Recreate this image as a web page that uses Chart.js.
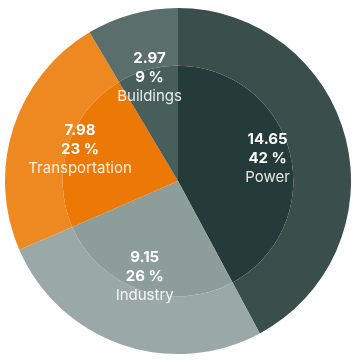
<!DOCTYPE html>
<html>
<head>
<meta charset="utf-8">
<script src="https://cdn.jsdelivr.net/npm/chart.js@4"></script>
<style>
  html, body { margin: 0; padding: 0; background: #ffffff; }
  #wrap { width: 356px; height: 364px; position: relative; }
</style>
</head>
<body>
<div id="wrap"><canvas id="c" width="356" height="364"></canvas></div>
<script>
const categories = ["Power", "Industry", "Transportation", "Buildings"];
const values = [14.65, 9.15, 7.98, 2.97];
const percentLabels = ["42 %", "26 %", "23 %", "9 %"];
const outerColors = ["#3a4e4c", "#9aa9a5", "#ee8820", "#5a6f6b"];
const innerColors = ["#243b39", "#8d9d99", "#ec7805", "#475e5a"];

const labelPlugin = {
  id: "sliceLabels",
  afterDatasetsDraw(chart) {
    const ctx = chart.ctx;
    const meta = chart.getDatasetMeta(0);
    meta.data.forEach((arc, i) => {
      const p = arc.getProps(["x", "y", "startAngle", "endAngle", "outerRadius"], true);
      const span = p.endAngle - p.startAngle;
      const mid = (p.startAngle + p.endAngle) / 2;
      const R = p.outerRadius;
      const centroid = 4 * R * Math.sin(span / 2) / (3 * span);
      const r = 0.5 * (0.58 * R + centroid);
      const cx = p.x + Math.cos(mid) * r;
      const cy = p.y + Math.sin(mid) * r;
      ctx.save();
      ctx.textAlign = "center";
      ctx.textBaseline = "middle";
      ctx.fillStyle = "#ffffff";
      ctx.font = "bold 15px Inter, 'Noto Sans', sans-serif";
      ctx.fillText(values[i].toFixed(2), cx, cy - 19);
      ctx.fillText(percentLabels[i], cx, cy);
      ctx.fillStyle = "rgba(255,255,255,0.88)";
      ctx.font = "15px Inter, 'Noto Sans', sans-serif";
      ctx.fillText(categories[i], cx, cy + 19);
      ctx.restore();
    });
  }
};

new Chart(document.getElementById("c"), {
  type: "doughnut",
  data: {
    labels: categories,
    datasets: [
      { data: values, backgroundColor: outerColors, borderWidth: 0, weight: 1 },
      { data: values, backgroundColor: innerColors, borderWidth: 0, weight: 2 }
    ]
  },
  options: {
    responsive: false,
    animation: false,
    cutout: 0,
    layout: { padding: { left: 5, right: 5, top: 8, bottom: 10 } },
    plugins: { legend: { display: false }, tooltip: { enabled: false } },
    events: []
  },
  plugins: [labelPlugin]
});
</script>
</body>
</html>
